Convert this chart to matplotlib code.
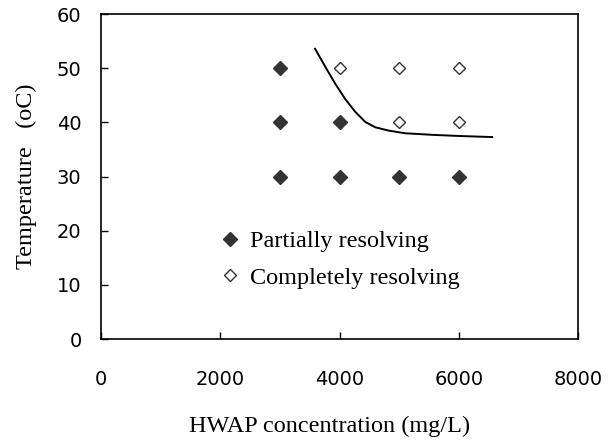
import matplotlib
matplotlib.use("Agg")
import matplotlib.pyplot as plt

partial_x = [3000, 3000, 3000, 4000, 4000, 5000, 6000]
partial_y = [30, 40, 50, 30, 40, 30, 30]
complete_x = [4000, 5000, 6000, 5000, 6000]
complete_y = [50, 50, 50, 40, 40]
curve_x = [3590, 3760, 3925, 4090, 4260, 4430, 4600, 4820, 5100, 5570, 6000, 6560]
curve_y = [53.6, 50.3, 47.2, 44.4, 42.0, 40.1, 39.1, 38.5, 38.0, 37.7, 37.5, 37.3]

xticks = [0, 2000, 4000, 6000, 8000]
yticks = [0, 10, 20, 30, 40, 50, 60]

fig = plt.figure(figsize=(6.14, 4.42), dpi=100)
ax = fig.add_axes([0.1645, 0.233, 0.777, 0.735])

ax.plot(curve_x, curve_y, color="black", lw=1.4, zorder=2)
ax.plot(partial_x, partial_y, linestyle="none", marker="D", ms=7.3,
        color="#333333", label="Partially resolving", zorder=3)
ax.plot(complete_x, complete_y, linestyle="none", marker="D", ms=6.5,
        markerfacecolor="white", markeredgecolor="#333333", mew=1.0,
        label="Completely resolving", zorder=3)

ax.set_xlim(0, 8000)
ax.set_ylim(0, 60)
ax.set_xticks(xticks)
ax.set_yticks(yticks)
tickfont = {"family": "DejaVu Sans", "size": 14}
ax.set_xticklabels([str(t) for t in xticks], fontdict=tickfont)
ax.set_yticklabels([str(t) for t in yticks], fontdict=tickfont)
ax.tick_params(axis="x", direction="in", length=5, width=1, pad=22)
ax.tick_params(axis="y", direction="in", length=5, width=1, pad=14)
for s in ax.spines.values():
    s.set_linewidth(1.2)

labfont = {"family": "Liberation Serif", "size": 17.5}
ax.set_xlabel("HWAP concentration (mg/L)", fontdict=labfont)
ax.set_ylabel("Temperature   (oC)", fontdict=labfont)
ax.xaxis.set_label_coords(0.48, -0.235)
ax.yaxis.set_label_coords(-0.135, 0.5)

leg = ax.legend(loc="upper left", bbox_to_anchor=(0.25, 0.335), frameon=False,
                prop={"family": "Liberation Serif", "size": 17.5},
                handletextpad=0.42, labelspacing=0.6, handlelength=0.8,
                borderaxespad=0, borderpad=0)

fig.savefig("out.png", dpi=100)
